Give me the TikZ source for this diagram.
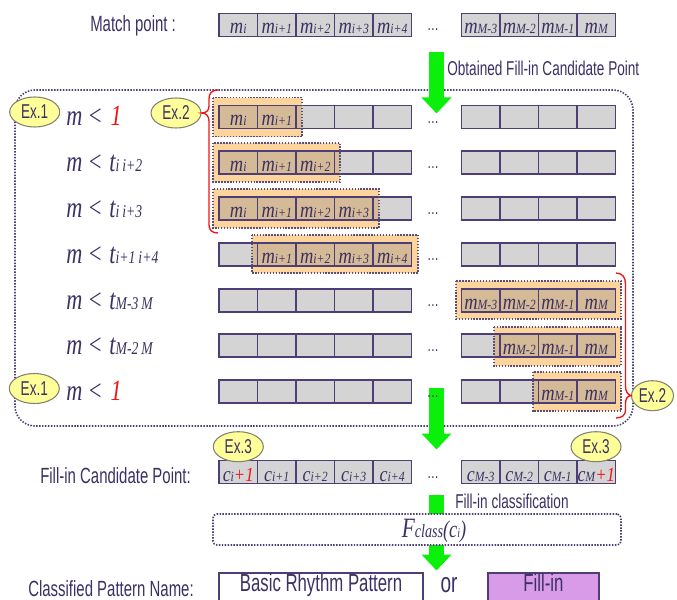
\documentclass[tikz,border=0pt]{standalone}
\usepackage{fontspec}
\setmainfont{Liberation Sans}
\newfontfamily\sn[FakeStretch=0.68]{Liberation Sans}
\newfontfamily\mi[FakeStretch=0.76]{Liberation Serif Italic}
\newfontfamily\mic[FakeStretch=0.84]{Liberation Serif Italic}
\usetikzlibrary{calc,shapes.geometric,arrows.meta}
\definecolor{bord}{RGB}{78,62,118}
\definecolor{txt}{RGB}{60,48,100}
\definecolor{cellg}{RGB}{212,212,212}
\definecolor{orng}{RGB}{252,212,156}
\definecolor{tanc}{RGB}{212,186,150}
\definecolor{exy}{RGB}{255,255,153}
\definecolor{exb}{RGB}{130,130,110}
\definecolor{grn}{RGB}{10,240,10}
\definecolor{fillp}{RGB}{216,155,232}
\definecolor{redt}{RGB}{240,20,20}
\newcommand\cellrow[2]{%
  \foreach \xx [count=\k] in {238.25,276.75,315.25,353.75,392.25,480.75,519.25,557.75,596.25}{%
    \node[cell] (#1-\k) at (\xx,#2) {};}%
  \node[dotsn] (#1-d) at (433,#2+6) {…};}
\newcommand\borders[1]{%
  \foreach \k in {1,...,9}{\draw[cellb] (#1-\k.north west) rectangle (#1-\k.south east);}}
\newcommand\lab[2]{\node[ctext] (#1t) at ($(#1.south)+(0,-2.5)$) {#2};}
\newcommand\mm[1]{{\fontsize{16.5}{16.5}\selectfont m}{\fontsize{10.5}{10.5}\selectfont #1}}
\newcommand\cc[1]{{\fontsize{16}{16}\selectfont c}{\fontsize{10.5}{10.5}\selectfont #1}}
\newcommand\plusone{{\color{redt}\fontsize{15}{15}\selectfont +1}}
\newcommand\tsub[1]{t{\fontsize{13.5}{13.5}\selectfont #1}}
\begin{document}
\begin{tikzpicture}[x=0.75pt,y=-0.75pt,
  cell/.style={draw=bord, fill=cellg, line width=1.3pt, minimum width=28.875pt, minimum height=17.25pt, inner sep=0pt, outer sep=0pt},
  cellb/.style={draw=bord, line width=1.3pt},
  hlborder/.style={draw=bord!75!gray, line width=1.2pt, dash pattern=on 1.1pt off 1.1pt},
  dotbox/.style={draw=bord, line width=1.2pt, dash pattern=on 1.1pt off 1.1pt},
  ex/.style={ellipse, draw=exb, fill=exy, line width=0.8pt, minimum width=37.5pt, minimum height=22.5pt, inner sep=0pt, font=\sn\fontsize{15}{15}\selectfont, text=txt},
  sanslab/.style={font=\sn\fontsize{16.5}{16.5}\selectfont, text=txt, inner sep=0pt, anchor=base west},
  smalllab/.style={font=\sn\fontsize{15}{15}\selectfont, text=txt, inner sep=0pt, anchor=base west},
  mathlab/.style={font=\mi\fontsize{22}{22}\selectfont, text=txt, inner sep=0pt, anchor=base west},
  ctext/.style={font=\mic, text=txt, inner sep=0pt, anchor=base},
  dotsn/.style={font=\sn\fontsize{13}{13}\selectfont, text=txt, inner sep=0pt, anchor=base},
  garrow/.style={draw=grn, line width=11.25pt, -{Triangle[width=21.75pt,length=12pt]}},
  brace/.style={draw=redt, line width=1pt},
  pbox/.style={draw=bord, line width=1.3pt, inner sep=0pt, text height=14.25pt, text depth=15pt, anchor=north, font=\sn\fontsize{18.5}{18.5}\selectfont, text=txt}]
\fill[white] (0,0) rectangle (677,599);
\useasboundingbox (0,0) rectangle (677,599);
% big dotted frame
\draw[dotbox, rounded corners=15pt] (15,90) rectangle (633,426);
% orange highlights
\fill[orng] (213,97.7) rectangle (302,136.7);
\fill[orng] (213,143) rectangle (340,181.7);
\fill[orng] (213,189) rectangle (379,228);
\fill[orng] (252,235) rectangle (418,273);
\fill[orng] (456,280.7) rectangle (621,319);
\fill[orng] (494,326.7) rectangle (621,366);
\fill[orng] (532.7,371.7) rectangle (621,411);
% cell rows
\cellrow{t}{25}
\cellrow{r1}{117}
\cellrow{r2}{162.5}
\cellrow{r3}{208.5}
\cellrow{r4}{254.3}
\cellrow{r5}{300.2}
\cellrow{r6}{345.5}
\cellrow{r7}{391.5}
\cellrow{c}{472}
% tan overlays
\fill[tanc] (219,105.5) rectangle (302,128.5);
\fill[tanc] (219,151) rectangle (340,174);
\fill[tanc] (219,197) rectangle (379,220);
\fill[tanc] (252,242.8) rectangle (411.5,265.8);
\fill[tanc] (461.5,288.7) rectangle (615.5,311.7);
\fill[tanc] (494,334) rectangle (615.5,357);
\fill[tanc] (532.7,380) rectangle (615.5,403);
\borders{r1}\borders{r2}\borders{r3}\borders{r4}\borders{r5}\borders{r6}\borders{r7}
% highlight borders
\draw[hlborder] (213,97.7) rectangle (302,136.7);
\draw[hlborder] (213,143) rectangle (340,181.7);
\draw[hlborder] (213,189) rectangle (379,228);
\draw[hlborder] (252,235) rectangle (418,273);
\draw[hlborder] (456,280.7) rectangle (621,319);
\draw[hlborder] (494,326.7) rectangle (621,366);
\draw[hlborder] (532.7,371.7) rectangle (621,411);
% green arrows
\coordinate (a1s) at (436.5,52); \coordinate (a1e) at (436.5,113.5);
\coordinate (a2s) at (436.5,388); \coordinate (a2e) at (436.5,449.5);
\coordinate (a3s) at (436.5,495); \coordinate (a3e) at (436.5,570.5);
\draw[garrow] (a1s) -- (a1e);
\draw[garrow] (a2s) -- (a2e);
\draw[garrow] (a3s) -- (a3e);
% redraw dots of row 7 over arrow
\node[dotsn] (r7-d2) at (433,397.5) {…};
% cell texts
\lab{t-1}{\mm{i}}\lab{t-2}{\mm{i+1}}\lab{t-3}{\mm{i+2}}\lab{t-4}{\mm{i+3}}\lab{t-5}{\mm{i+4}}
\lab{t-6}{\mm{M-3}}\lab{t-7}{\mm{M-2}}\lab{t-8}{\mm{M-1}}\lab{t-9}{\mm{M}}
\lab{r1-1}{\mm{i}}\lab{r1-2}{\mm{i+1}}
\lab{r2-1}{\mm{i}}\lab{r2-2}{\mm{i+1}}\lab{r2-3}{\mm{i+2}}
\lab{r3-1}{\mm{i}}\lab{r3-2}{\mm{i+1}}\lab{r3-3}{\mm{i+2}}\lab{r3-4}{\mm{i+3}}
\lab{r4-2}{\mm{i+1}}\lab{r4-3}{\mm{i+2}}\lab{r4-4}{\mm{i+3}}\lab{r4-5}{\mm{i+4}}
\lab{r5-6}{\mm{M-3}}\lab{r5-7}{\mm{M-2}}\lab{r5-8}{\mm{M-1}}\lab{r5-9}{\mm{M}}
\lab{r6-7}{\mm{M-2}}\lab{r6-8}{\mm{M-1}}\lab{r6-9}{\mm{M}}
\lab{r7-8}{\mm{M-1}}\lab{r7-9}{\mm{M}}
\lab{c-1}{\cc{i}\plusone}\lab{c-2}{\cc{i+1}}\lab{c-3}{\cc{i+2}}\lab{c-4}{\cc{i+3}}\lab{c-5}{\cc{i+4}}
\lab{c-6}{\cc{M-3}}\lab{c-7}{\cc{M-2}}\lab{c-8}{\cc{M-1}}\lab{c-9}{\cc{M}\plusone}
% left labels
\node[mathlab] (l1) at (66,126) {m\hspace{4pt}<\hspace{6pt}\textcolor{redt}{1}};
\node[mathlab] (l2) at (66,171.5) {m\hspace{4pt}<\hspace{5pt}\tsub{i\,i+2}};
\node[mathlab] (l3) at (66,217.5) {m\hspace{4pt}<\hspace{5pt}\tsub{i\,i+3}};
\node[mathlab] (l4) at (66,263) {m\hspace{4pt}<\hspace{5pt}\tsub{i+1\,i+4}};
\node[mathlab] (l5) at (66,309) {m\hspace{4pt}<\hspace{5pt}\tsub{M-3\,M}};
\node[mathlab] (l6) at (66,354.5) {m\hspace{4pt}<\hspace{5pt}\tsub{M-2\,M}};
\node[mathlab] (l7) at (66,400.5) {m\hspace{4pt}<\hspace{6pt}\textcolor{redt}{1}};
% sans labels
\node[sanslab] (mp) at (90,32) {Match point :};
\node[smalllab] (ofc) at (447,76) {Obtained Fill-in Candidate Point};
\node[sanslab] (fcp) at (40,483) {Fill-in Candidate Point:};
\node[smalllab] (fic) at (455,508) {Fill-in classification};
\node[sanslab] (cpn) at (28,596) {Classified Pattern Name:};
% braces
\node[ex] (ex2a) at (176,113) {Ex.2};
\node[ex, minimum width=31.5pt] (ex2b) at (652.5,395.7) {Ex.2};
\draw[brace] (218,90) .. controls (212,90) and (209,93) .. (209,99) -- (209,106) .. controls (209,111) and (206,113) .. (ex2a.east) .. controls (206,113) and (209,116) .. (209,121) -- (209,225) .. controls (209,230) and (212,233) .. (218,233);
\draw[brace] (616,273) .. controls (622,273) and (625.5,277) .. (625.5,284) -- (625.5,386) .. controls (625.5,391) and (627,394) .. (ex2b.west) .. controls (627,396) and (625.5,399) .. (625.5,404) -- (625.5,410) .. controls (625.5,415) and (622,418) .. (616,418);
% Ex ellipses
\node[ex] (ex1a) at (34.7,112) {Ex.1};
\node[ex] (ex1b) at (34.3,388.5) {Ex.1};
\node[ex] (ex3a) at (238.3,446.7) {Ex.3};
\node[ex] (ex3b) at (596,446.7) {Ex.3};
% Fclass box
\node[dotbox, rounded corners=3pt, fill=white, minimum width=306pt, minimum height=23.25pt, inner sep=0pt] (fbox) at (417,529.5) {};
\node[font=\mi, text=txt, inner sep=0pt, anchor=base] (ftext) at (434,537) {{\fontsize{21}{21}\selectfont F}{\fontsize{14}{14}\selectfont class}{\fontsize{18}{18}\selectfont (c}{\fontsize{10}{10}\selectfont i}{\fontsize{18}{18}\selectfont )}};
% bottom boxes
\node[pbox, fill=white, minimum width=153pt] (brp) at (321,572) {Basic Rhythm Pattern};
\node[pbox, fill=fillp, minimum width=83.25pt] (fin) at (543.5,572) {Fill-in};
\node[font=\sn\fontsize{21}{21}\selectfont, text=txt, anchor=base, inner sep=0pt] (orw) at (449,592) {or};
\end{tikzpicture}
\end{document}
